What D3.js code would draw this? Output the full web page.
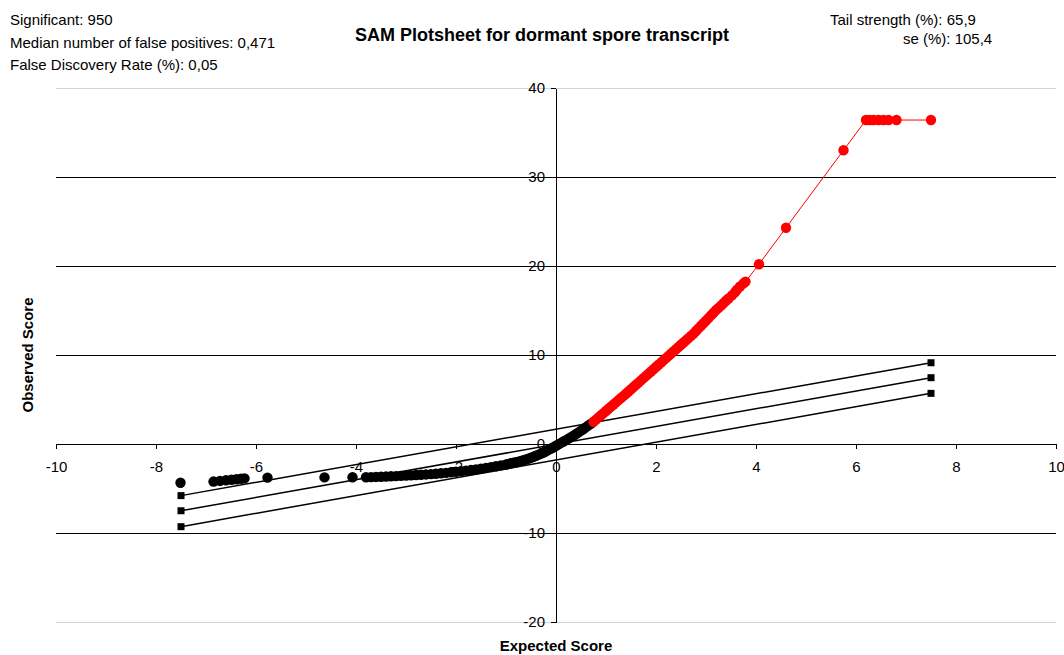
<!DOCTYPE html>
<html>
<head>
<meta charset="utf-8">
<script src="https://cdn.jsdelivr.net/npm/d3@7"></script>
<style>
  html, body { margin: 0; padding: 0; background: #fff; }
  svg { display: block; font-family: "Liberation Sans", Arial, sans-serif; }
</style>
</head>
<body>
<svg id="chart" width="1064" height="655"></svg>
<script>
// Header statistics
const statsLeft = [
  "Significant: 950",
  "Median number of false positives: 0,471",
  "False Discovery Rate (%): 0,05"
];
const statsRight = ["Tail strength (%): 65,9", "se (%): 105,4"];
const chartTitle = "SAM Plotsheet for dormant spore transcript";
const xTitle = "Expected Score";
const yTitle = "Observed Score";

// Axis ticks
const xTicks = [-10, -8, -6, -4, -2, 0, 2, 4, 6, 8, 10];
const yTicks = [-20, -10, 0, 10, 20, 30, 40];

// Non-significant genes: expected vs observed score
const grayExpected = [
  -7.51, -6.85, -6.72, -6.6, -6.49, -6.39, -6.3, -6.23, -5.77, -4.63, -4.07,
  -3.8, -3.7, -3.6, -3.5, -3.4, -3.3, -3.2, -3.1, -3.0, -2.9, -2.8, -2.7, -2.6,
  -2.5, -2.4, -2.3, -2.2, -2.1, -2.0, -1.9, -1.8, -1.7, -1.6, -1.5, -1.4, -1.3,
  -1.2, -1.1, -1.0, -0.95, -0.9, -0.85, -0.8, -0.75, -0.7, -0.65, -0.6, -0.55,
  -0.5, -0.45, -0.4, -0.35, -0.3, -0.25, -0.2, -0.15, -0.1, -0.05, 0, 0.05,
  0.1, 0.15, 0.2, 0.25, 0.3, 0.35, 0.4, 0.45, 0.5, 0.55, 0.6, 0.65, 0.7
];
const grayObserved = [
  -4.35, -4.22, -4.15, -4.08, -4.02, -3.96, -3.9, -3.86, -3.78, -3.75, -3.74,
  -3.74, -3.72, -3.7, -3.68, -3.66, -3.63, -3.61, -3.58, -3.55, -3.52, -3.49,
  -3.45, -3.42, -3.38, -3.34, -3.29, -3.24, -3.18, -3.12, -3.06, -2.99, -2.92,
  -2.86, -2.78, -2.69, -2.6, -2.5, -2.4, -2.3, -2.24, -2.17, -2.11, -2.05,
  -1.98, -1.9, -1.82, -1.74, -1.65, -1.55, -1.44, -1.32, -1.2, -1.08, -0.95,
  -0.81, -0.66, -0.51, -0.36, -0.2, -0.04, 0.12, 0.28, 0.44, 0.6, 0.77, 0.94,
  1.12, 1.3, 1.5, 1.69, 1.89, 2.09, 2.29
];

// Significant (positive) genes
const sigExpected = [
  0.75, 0.8, 0.85, 0.9, 0.95, 1.0, 1.05, 1.1, 1.15, 1.2, 1.25, 1.3, 1.35, 1.4,
  1.45, 1.5, 1.55, 1.6, 1.65, 1.7, 1.75, 1.8, 1.85, 1.9, 1.95, 2.0, 2.05, 2.1,
  2.15, 2.2, 2.25, 2.3, 2.35, 2.4, 2.45, 2.5, 2.55, 2.6, 2.65, 2.7, 2.75, 2.8,
  2.85, 2.9, 2.95, 3.0, 3.05, 3.1, 3.15, 3.2, 3.25, 3.3, 3.35, 3.4, 3.45, 3.52,
  3.58, 3.62, 3.68, 3.75, 3.79, 4.06, 4.6, 5.75, 6.2, 6.27, 6.35, 6.45, 6.55,
  6.65, 6.81, 7.5
];
const sigObserved = [
  2.5, 2.74, 2.99, 3.23, 3.47, 3.71, 3.96, 4.2, 4.44, 4.68, 4.93, 5.17, 5.41,
  5.65, 5.9, 6.15, 6.4, 6.65, 6.9, 7.15, 7.4, 7.65, 7.9, 8.15, 8.4, 8.65, 8.9,
  9.15, 9.4, 9.65, 9.9, 10.15, 10.4, 10.65, 10.9, 11.15, 11.4, 11.65, 11.9,
  12.15, 12.4, 12.7, 12.99, 13.28, 13.57, 13.86, 14.15, 14.45, 14.75, 15.05,
  15.3, 15.55, 15.82, 16.1, 16.35, 16.7, 17.05, 17.35, 17.7, 18.05, 18.25,
  20.2, 24.3, 33.0, 36.4, 36.4, 36.4, 36.4, 36.4, 36.4, 36.4, 36.4
];

// Reference lines: upper cutoff, equality, lower cutoff
const refExpected = [-7.5, 7.5];
const refUpper = [-5.8, 9.13];
const refMiddle = [-7.5, 7.45];
const refLower = [-9.29, 5.69];

const svg = d3.select("#chart");
const x = d3.scaleLinear().domain([-10, 10]).range([56, 1056]);
const y = d3.scaleLinear().domain([-20, 40]).range([622, 88]);

// Horizontal gridlines
svg.append("g")
  .selectAll("line")
  .data(yTicks.filter(v => v !== 0))
  .join("line")
  .attr("x1", x(-10)).attr("x2", x(10))
  .attr("y1", d => y(d)).attr("y2", d => y(d))
  .attr("stroke", d => (d === 40 || d === -20) ? "#d4d4d4" : "#000")
  .attr("stroke-width", 1)
  .attr("shape-rendering", "crispEdges");

// Axes crossing at the origin
const xAxis = svg.append("g")
  .attr("transform", `translate(0,${y(0)})`)
  .call(d3.axisBottom(x).tickValues(xTicks).tickSize(5).tickSizeOuter(0).tickPadding(12).tickFormat(d3.format("d")));
const yAxis = svg.append("g")
  .attr("transform", `translate(${x(0)},0)`)
  .call(d3.axisLeft(y).tickValues(yTicks).tickSize(5).tickSizeOuter(0).tickPadding(6).tickFormat(d3.format("d")));
[xAxis, yAxis].forEach(g => {
  g.selectAll("path, line").attr("stroke", "#000").attr("shape-rendering", "crispEdges");
  g.selectAll("text")
    .attr("fill", "#000")
    .style("font-size", "15px")
    .style("font-family", "'Liberation Sans', Arial, sans-serif");
});
xAxis.selectAll("text").text(d => d < 0 ? "-" + Math.abs(d) : d);
yAxis.selectAll("text").text(d => d < 0 ? "-" + Math.abs(d) : d);

// Reference lines with square end markers
const refSets = [refUpper, refMiddle, refLower];
const refLine = d3.line().x((d, i) => x(refExpected[i])).y(d => y(d));
svg.append("g")
  .selectAll("path")
  .data(refSets)
  .join("path")
  .attr("d", d => refLine(d))
  .attr("fill", "none")
  .attr("stroke", "#000")
  .attr("stroke-width", 1.5);
svg.append("g")
  .selectAll("rect")
  .data(refSets.flatMap(s => s.map((v, i) => [refExpected[i], v])))
  .join("rect")
  .attr("x", d => x(d[0]) - 3.5)
  .attr("y", d => y(d[1]) - 3.5)
  .attr("width", 7).attr("height", 7)
  .attr("fill", "#000");

// Non-significant genes
svg.append("g")
  .selectAll("circle")
  .data(grayExpected.map((v, i) => [v, grayObserved[i]]))
  .join("circle")
  .attr("cx", d => x(d[0]))
  .attr("cy", d => y(d[1]))
  .attr("r", 5.2)
  .attr("fill", "#000");

// Significant genes, joined by a thin line
const sigPts = sigExpected.map((v, i) => [v, sigObserved[i]]);
svg.append("path")
  .attr("d", d3.line().x(d => x(d[0])).y(d => y(d[1]))(sigPts))
  .attr("fill", "none")
  .attr("stroke", "#ff0000")
  .attr("stroke-width", 1);
svg.append("g")
  .selectAll("circle")
  .data(sigPts)
  .join("circle")
  .attr("cx", d => x(d[0]))
  .attr("cy", d => y(d[1]))
  .attr("r", 5.2)
  .attr("fill", "#ff0000");

// Titles and statistics
svg.append("text")
  .attr("x", 542).attr("y", 41)
  .attr("text-anchor", "middle")
  .style("font-size", "18px").style("font-weight", "bold")
  .text(chartTitle);
svg.append("g")
  .selectAll("text")
  .data(statsLeft)
  .join("text")
  .attr("x", 10)
  .attr("y", (d, i) => 25 + i * 22.5)
  .style("font-size", "15px")
  .text(d => d);
svg.append("text").attr("x", 830).attr("y", 25).style("font-size", "15px").text(statsRight[0]);
svg.append("text").attr("x", 903).attr("y", 44).style("font-size", "15px").text(statsRight[1]);
svg.append("text")
  .attr("x", x(0)).attr("y", 651)
  .attr("text-anchor", "middle")
  .style("font-size", "15px").style("font-weight", "bold")
  .text(xTitle);
svg.append("text")
  .attr("transform", `translate(33,${(y(-20) + y(40)) / 2}) rotate(-90)`)
  .attr("text-anchor", "middle")
  .style("font-size", "15px").style("font-weight", "bold")
  .text(yTitle);
</script>
</body>
</html>
